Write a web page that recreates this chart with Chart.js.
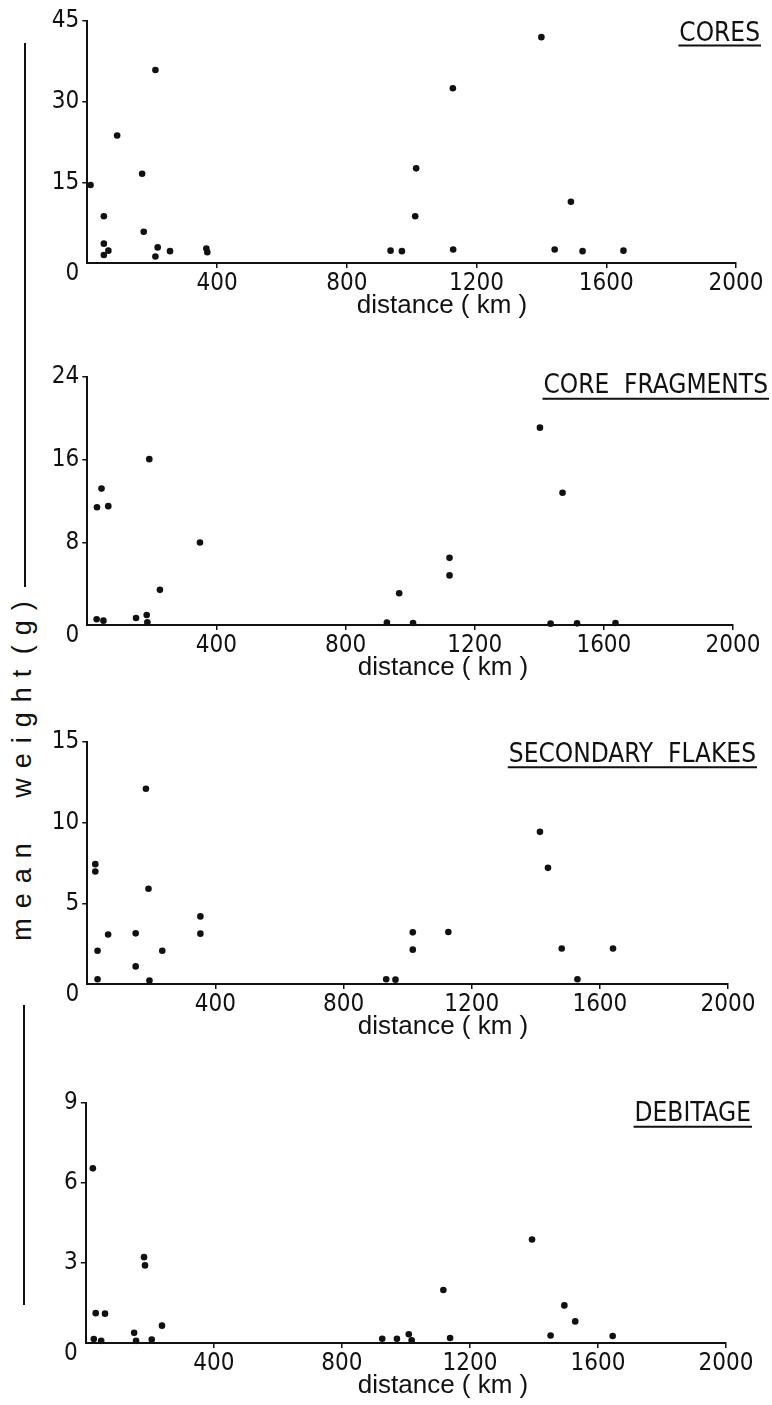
<!DOCTYPE html>
<html>
<head>
<meta charset="utf-8">
<script src="https://cdn.jsdelivr.net/npm/chart.js@4.4.0/dist/chart.umd.min.js"></script>
<style>
  html, body { margin: 0; padding: 0; background: #fff; }
  body { width: 772px; height: 1405px; position: relative; overflow: hidden; }
  canvas { position: absolute; left: 0; }
  .vline { position: absolute; width: 2px; background: #111; }
  #ylab {
    position: absolute; left: 22px; top: 766px;
    transform: translate(-50%, -50%) rotate(-90deg);
    white-space: pre; font-family: 'Liberation Sans', Arial, sans-serif;
    font-size: 27px; line-height: 27px; color: #111; letter-spacing: 10px;
  }
</style>
</head>
<body>
<div class="vline" style="left:24px;top:43px;height:544px"></div>
<div class="vline" style="left:23px;top:1005px;height:300px"></div>
<div id="ylab"><span style="word-spacing:18px">mean </span><span style="word-spacing:-12px">weight (g)</span></div>
<canvas id="c1"></canvas>
<canvas id="c2"></canvas>
<canvas id="c3"></canvas>
<canvas id="c4"></canvas>
<script>
// ---------------- data ----------------
const distanceTicks = [0, 400, 800, 1200, 1600, 2000];
const xAxisTitle = 'distance ( km )';
const yAxisTitle = 'mean weight (g)';

const panelNames = ['CORES', 'CORE  FRAGMENTS', 'SECONDARY  FLAKES', 'DEBITAGE'];
const weightTicksCores = [0, 15, 30, 45];
const weightTicksFragments = [0, 8, 16, 24];
const weightTicksFlakes = [0, 5, 10, 15];
const weightTicksDebitage = [0, 3, 6, 9];

const coresDistance = [10, 51, 51, 51, 65, 92, 169, 174, 210, 217, 210, 255, 367, 370, 935, 970, 1014, 1011, 1127, 1128, 1400, 1441, 1491, 1527, 1653];
const coresWeight   = [14.5, 8.7, 3.6, 1.5, 2.3, 23.7, 16.6, 5.8, 35.9, 2.9, 1.2, 2.2, 2.7, 2.0, 2.3, 2.2, 17.6, 8.7, 32.5, 2.5, 42.0, 2.5, 11.4, 2.2, 2.3];

const fragmentsDistance = [29, 50, 30, 44, 65, 151, 184, 186, 192, 225, 349, 928, 966, 1009, 1122, 1122, 1402, 1435, 1472, 1517, 1636];
const fragmentsWeight   = [0.55, 0.42, 11.4, 13.2, 11.5, 0.68, 0.97, 0.26, 16.05, 3.4, 7.98, 0.23, 3.07, 0.19, 6.5, 4.8, 19.1, 0.13, 12.8, 0.16, 0.19];

const flakesDistance = [25, 25, 32, 32, 65, 151, 151, 183, 191, 194, 234, 353, 353, 933, 962, 1016, 1016, 1127, 1413, 1438, 1481, 1530, 1641];
const flakesWeight   = [7.43, 6.97, 2.06, 0.29, 3.07, 3.14, 1.09, 12.1, 5.9, 0.21, 2.06, 4.19, 3.12, 0.29, 0.27, 3.2, 2.13, 3.22, 9.43, 7.2, 2.2, 0.29, 2.2];

const debitageDistance = [22, 25, 31, 48, 60, 151, 157, 182, 185, 206, 238, 926, 972, 1009, 1018, 1117, 1138, 1394, 1452, 1495, 1529, 1646];
const debitageWeight   = [6.55, 0.15, 1.12, 0.08, 1.1, 0.38, 0.08, 3.22, 2.91, 0.13, 0.65, 0.16, 0.16, 0.33, 0.1, 1.99, 0.19, 3.88, 0.28, 1.41, 0.81, 0.26];

// ---------------- layout (page pixels) ----------------
const NARROW = "'Liberation Sans Narrow', 'DejaVu Sans Condensed', 'Liberation Sans', sans-serif";
const REG = "'Liberation Sans', Arial, sans-serif";
const INK = '#111';
const layouts = [
  { L: 87.3, R: 736, T: 20.5,   B: 262,    titleRight: 760, titleBase: 40,   underY: 45,    xTitleX: 442 },
  { L: 87.3, R: 733, T: 376.7,  B: 624.3,  titleRight: 768, titleBase: 393,  underY: 398.5, xTitleX: 443 },
  { L: 87.3, R: 728, T: 741.7,  B: 984,    titleRight: 756, titleBase: 762,  underY: 767,   xTitleX: 443 },
  { L: 85.8, R: 726, T: 1103.3, B: 1343.3, titleRight: 751, titleBase: 1121, underY: 1127,  xTitleX: 443 }
];
const YW = 60, XH = 70, PADTOP = 40;

const panels = [
  { id: 'c1', name: panelNames[0], xs: coresDistance, ys: coresWeight, yt: weightTicksCores },
  { id: 'c2', name: panelNames[1], xs: fragmentsDistance, ys: fragmentsWeight, yt: weightTicksFragments },
  { id: 'c3', name: panelNames[2], xs: flakesDistance, ys: flakesWeight, yt: weightTicksFlakes },
  { id: 'c4', name: panelNames[3], xs: debitageDistance, ys: debitageWeight, yt: weightTicksDebitage }
];

const decor = {
  id: 'decor',
  afterDraw(chart, args, o) {
    const ctx = chart.ctx;
    ctx.save();
    ctx.fillStyle = INK; ctx.strokeStyle = INK;
    // panel title, right aligned and underlined
    ctx.font = '26px ' + NARROW;
    ctx.textAlign = 'right'; ctx.textBaseline = 'alphabetic';
    ctx.fillText(o.name, o.titleRight, o.titleBase - o.top);
    const w = ctx.measureText(o.name).width;
    ctx.lineWidth = 2;
    ctx.beginPath();
    ctx.moveTo(o.titleRight - w - 1, o.underY - o.top);
    ctx.lineTo(o.titleRight + 1, o.underY - o.top);
    ctx.stroke();
    // x axis title
    ctx.font = '26px ' + REG;
    ctx.textAlign = 'center';
    ctx.fillText(xAxisTitle, o.xTitleX, chart.chartArea.bottom + 50);
    ctx.restore();
  }
};

panels.forEach((p, i) => {
  const g = layouts[i];
  const top = g.T - PADTOP;
  const height = (g.B - g.T) + PADTOP + XH;
  const cv = document.getElementById(p.id);
  cv.width = 772; cv.height = Math.round(height);
  cv.style.top = top + 'px';
  const pts = p.xs.map((x, k) => ({ x: x, y: p.ys[k] }));
  const tickColor = c => (c.tick && c.tick.value === 0) ? 'rgba(0,0,0,0)' : INK;
  new Chart(cv, {
    type: 'scatter',
    data: { datasets: [{ data: pts, backgroundColor: INK, borderColor: INK, borderWidth: 0, pointRadius: 3.3, pointHoverRadius: 3.3, clip: false }] },
    options: {
      responsive: false, animation: false, devicePixelRatio: 1,
      events: [],
      layout: { padding: { top: PADTOP, left: g.L - YW, right: 772 - g.R, bottom: 0 } },
      plugins: { legend: { display: false }, tooltip: { enabled: false }, title: { display: false },
        decor: { name: p.name, top: top, titleRight: g.titleRight, titleBase: g.titleBase, underY: g.underY, xTitleX: g.xTitleX } },
      scales: {
        x: {
          type: 'linear', min: distanceTicks[0], max: distanceTicks[distanceTicks.length - 1],
          afterBuildTicks: s => { s.ticks = distanceTicks.map(v => ({ value: v })); },
          afterFit: s => { s.height = XH; },
          border: { display: true, color: INK, width: 2 },
          grid: { display: true, drawOnChartArea: false, drawTicks: true, tickLength: 5, color: tickColor, lineWidth: 1.5 },
          ticks: { color: INK, font: { family: NARROW, size: 24 }, padding: 1, maxRotation: 0, autoSkip: false,
            callback: v => v === 0 ? '' : String(v) }
        },
        y: {
          type: 'linear', min: p.yt[0], max: p.yt[p.yt.length - 1],
          afterBuildTicks: s => { s.ticks = p.yt.map(v => ({ value: v })); },
          afterFit: s => { s.width = YW; },
          border: { display: true, color: INK, width: 2 },
          grid: { display: true, drawOnChartArea: false, drawTicks: true, tickLength: 5, color: tickColor, lineWidth: 1.5 },
          ticks: { color: INK, padding: 3, autoSkip: false,
            font: c => ({ family: NARROW, size: 24, lineHeight: (c.tick && c.tick.value === 0) ? 0.9 : 1.2 }),
            callback: v => v === 0 ? ['', '0'] : String(v) }
        }
      }
    },
    plugins: [decor]
  });
});
</script>
</body>
</html>
